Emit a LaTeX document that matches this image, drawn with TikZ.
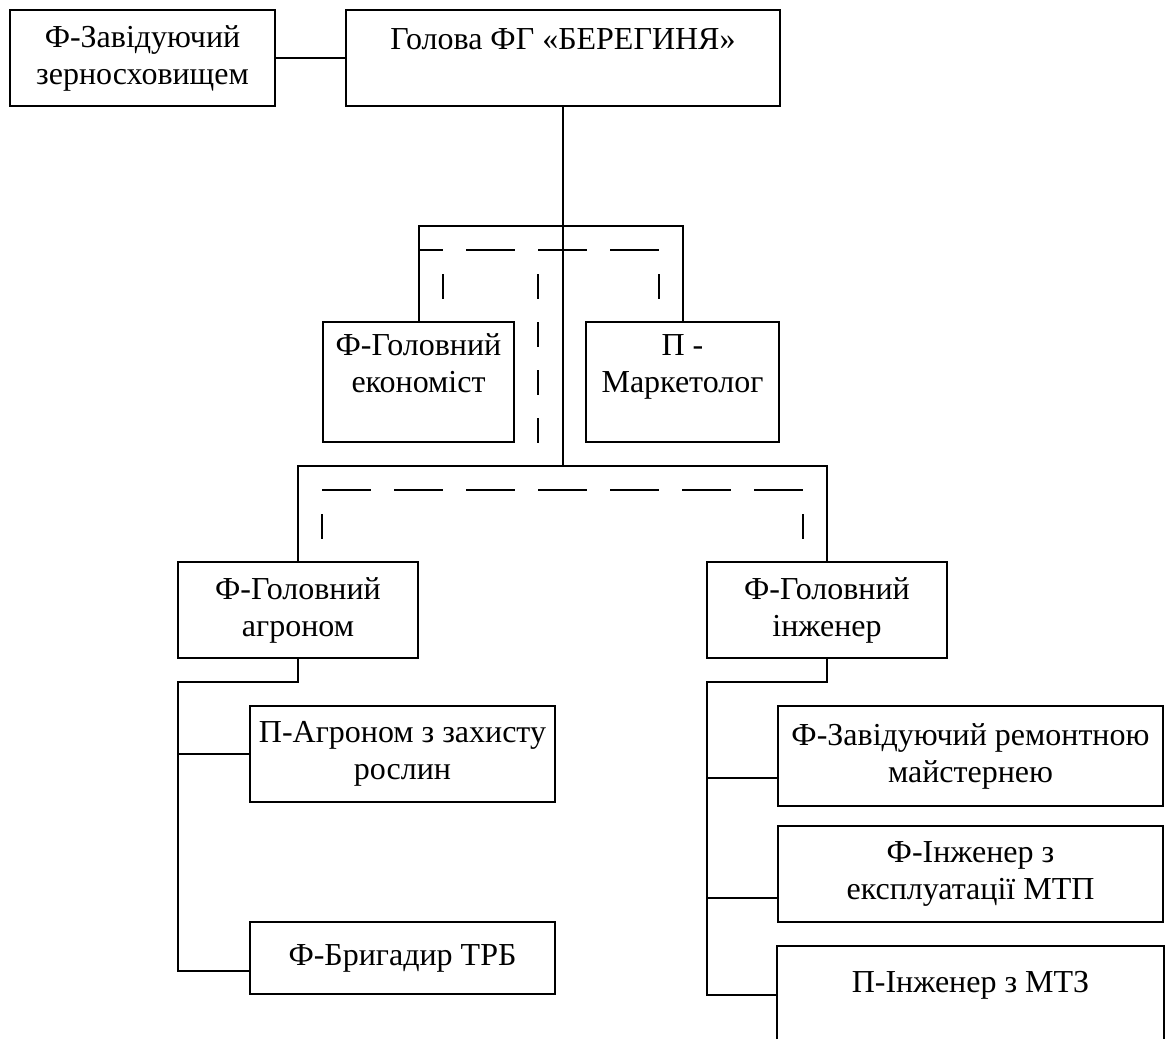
\documentclass[tikz,border=0pt]{standalone}
\usepackage{fontspec}
\setmainfont{Liberation Serif}
\begin{document}
\begin{tikzpicture}[x=1pt,y=-1pt,
  box/.style={draw, line width=2pt, inner sep=0pt, align=center, font=\fontsize{32}{37}\selectfont},
  ln/.style={line width=2pt},
  dsh/.style={line width=2pt, dash pattern=on 49pt off 23pt}]
\useasboundingbox (0,0) rectangle (1174,1039);

% boxes
\node[box, minimum width=265pt, minimum height=96pt] (zav) at (142.5,58) {Ф-Завідуючий\\зерносховищем};
\node[box, minimum width=434pt, minimum height=96pt] (hol) at (563,58) {Голова ФГ «БЕРЕГИНЯ»\\\mbox{}};
\node[box, minimum width=191pt, minimum height=120pt] (eco) at (418.5,382) {Ф-Головний\\економіст\\\mbox{}};
\node[box, minimum width=193pt, minimum height=120pt] (mkt) at (682.5,382) {П -\\Маркетолог\\\mbox{}};
\node[box, minimum width=240pt, minimum height=96pt] (agr) at (298,610) {Ф-Головний\\агроном};
\node[box, minimum width=240pt, minimum height=96pt] (eng) at (827,610) {Ф-Головний\\інженер};
\node[box, minimum width=305pt, minimum height=96pt] (zah) at (402.5,754) {П-Агроном з захисту\\рослин};
\node[box, minimum width=305pt, minimum height=72pt] (brig) at (402.5,958) {Ф-Бригадир ТРБ};
\node[box, minimum width=385pt, minimum height=100pt] (rem) at (970.5,756) {Ф-Завідуючий ремонтною\\майстернею};
\node[box, minimum width=385pt, minimum height=96pt] (mtp) at (970.5,874) {Ф-Інженер з\\експлуатації МТП};
\node[box, draw=none, minimum width=385pt, minimum height=76pt] (mtz) at (970.5,985) {П-Інженер з МТЗ};
\draw[ln] (mtz.north west) ++(0,93) -- (mtz.north west) -- (mtz.north east) -- ++(0,93);

% junction coordinates
\coordinate (upbar) at (563,226);
\coordinate (lowbar) at (563,466);
\coordinate (at) at (178,682);
\coordinate (ta1) at (178,754);
\coordinate (ta2) at (178,971);
\coordinate (et) at (707,682);
\coordinate (e1) at (707,778);
\coordinate (e2) at (707,898);
\coordinate (e3) at (707,995);

% solid connectors
\draw[ln] (zav.east) -- (hol.west);
\draw[ln] (hol.south) -- (lowbar);
\draw[ln] (eco.north) |- (upbar) -| (mkt.north);
\draw[ln] (agr.north) |- (lowbar) -| (eng.north);
\draw[ln] (agr.south) |- (at) -- (ta2) -- (ta2 -| brig.west);
\draw[ln] (ta1) -- (ta1 -| zah.west);
\draw[ln] (eng.south) |- (et) -- (e3) -- (e3 -| mtz.west);
\draw[ln] (e1) -- (e1 -| rem.west);
\draw[ln] (e2) -- (e2 -| mtp.west);

% dashed lines
\draw[dsh, dash phase=24pt] (418,250) -- (659,250);
\draw[ln] (443,274) -- (443,299);
\draw[ln] (659,274) -- (659,299);
\draw[ln, dash pattern=on 25pt off 23pt] (538,274) -- (538,443);
\draw[dsh] (322,490) -- (803,490);
\draw[ln] (322,514) -- (322,539);
\draw[ln] (803,514) -- (803,539);
\end{tikzpicture}
\end{document}
